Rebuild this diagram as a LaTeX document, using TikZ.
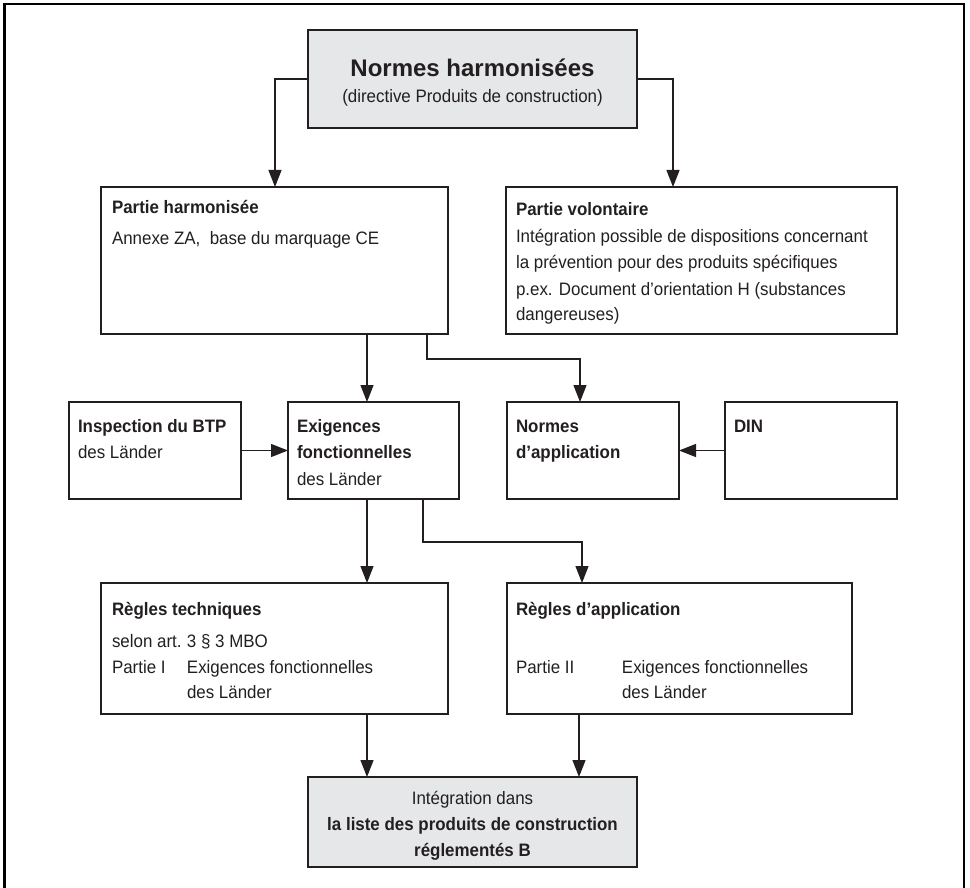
\documentclass[tikz,border=0pt]{standalone}
\usepackage{fontspec}
\setmainfont{Liberation Sans}[FakeStretch=0.94]
\newfontfamily\titlefont{Liberation Sans}
\usetikzlibrary{arrows.meta}
\definecolor{ink}{HTML}{231F20}
\definecolor{panel}{HTML}{E6E7E8}
\begin{document}
\begin{tikzpicture}[x=1pt,y=-1pt,
  box/.style={draw=ink, line width=1.5pt, rectangle, inner sep=0pt, outer sep=0pt, anchor=north west},
  shaded/.style={box, fill=panel},
  txt/.style={inner sep=0pt, outer sep=0pt, anchor=base west, text=ink, font=\fontsize{18}{20}\selectfont},
  head/.style={txt, font=\fontsize{18}{20}\selectfont\bfseries},
  link/.style={draw=ink, line width=1.3pt, -{Triangle[length=17pt,width=13pt]}},
]
\useasboundingbox (0,0) rectangle (970,888);
% outer frame (open at the bottom edge of the page)
\draw[line width=2.5pt] (4.5,895) -- (4.5,4) -- (964,4) -- (964,895);

% boxes
\node[shaded, minimum width=329pt, minimum height=98pt] (top) at (308,30) {};
\node[box, minimum width=347pt, minimum height=147pt] (ph) at (101,187) {};
\node[box, minimum width=391pt, minimum height=147pt] (pv) at (506,187) {};
\node[box, minimum width=172pt, minimum height=97pt] (insp) at (69,402) {};
\node[box, minimum width=171pt, minimum height=97pt] (exig) at (288,402) {};
\node[box, minimum width=172pt, minimum height=97pt] (napp) at (507,402) {};
\node[box, minimum width=172pt, minimum height=97pt] (din) at (725,402) {};
\node[box, minimum width=347pt, minimum height=131pt] (rt) at (101,583) {};
\node[box, minimum width=345pt, minimum height=131pt] (ra) at (507,583) {};
\node[shaded, minimum width=329pt, minimum height=90pt] (bot) at (308,777) {};

% texts
\node[txt, font=\titlefont\fontsize{24}{28}\selectfont\bfseries, anchor=base] (top1) at (472.5,77) {Normes harmonisées};
\node[txt, anchor=base] (top2) at (472.5,103) {(directive Produits de construction)};

\node[head] (ph1) at (112,214) {Partie harmonisée};
\node[txt] (ph2) at (112,244) {Annexe ZA,\ \ base du marquage CE};

\node[head] (pv1) at (516,215) {Partie volontaire};
\node[txt] (pv2) at (516,242) {Intégration possible de dispositions concernant};
\node[txt] (pv3) at (516,269) {la prévention pour des produits spécifiques};
\node[txt] (pv4) at (516,295) {p.ex. Document d’orientation H (substances};
\node[txt] (pv5) at (516,320) {dangereuses)};

\node[head] (insp1) at (78,432) {Inspection du BTP};
\node[txt] (insp2) at (78,458) {des Länder};

\node[head] (exig1) at (297,432) {Exigences};
\node[head] (exig2) at (297,458) {fonctionnelles};
\node[txt] (exig3) at (297,485) {des Länder};

\node[head] (napp1) at (516,432) {Normes};
\node[head] (napp2) at (516,458) {d’application};

\node[head] (din1) at (734,432) {DIN};

\node[head] (rt1) at (112,615) {Règles techniques};
\node[txt] (rt2) at (112,647) {\makebox[75pt][l]{selon art.}3 § 3 MBO};
\node[txt] (rt3) at (112,673) {\makebox[75pt][l]{Partie I}Exigences fonctionnelles};
\node[txt] (rt4) at (187,698) {des Länder};

\node[head] (ra1) at (516,615) {Règles d’application};
\node[txt] (ra2) at (516,673) {\makebox[106pt][l]{Partie II}Exigences fonctionnelles};
\node[txt] (ra3) at (622,698) {des Länder};

\node[txt, anchor=base] (bot1) at (472.5,804) {Intégration dans};
\node[head, anchor=base] (bot2) at (472.5,830) {la liste des produits de construction};
\node[head, anchor=base] (bot3) at (472.5,856) {réglementés B};

% connectors
\coordinate (phIn) at (275,187);
\coordinate (pvIn) at (673,187);
\draw[link] (top.west) -| (phIn);
\draw[link] (top.east) -| (pvIn);

\coordinate (exigIn) at (367,402);
\draw[link] (ph.south -| exigIn) -- (exigIn);

\coordinate (phOut) at (427,334);
\coordinate (nappIn) at (580,402);
\draw[link] (phOut) |- (580,359) -- (nappIn);

\draw[link] (insp) -- (exig);
\draw[link] (din) -- (napp);

\coordinate (rtIn) at (367,583);
\draw[link] (exig.south -| rtIn) -- (rtIn);

\coordinate (exigOut) at (423,499);
\coordinate (raIn) at (582,583);
\draw[link] (exigOut) |- (582,542) -- (raIn);

\coordinate (botL) at (367,777);
\coordinate (botR) at (579,777);
\draw[link] (rt.south -| botL) -- (botL);
\draw[link] (ra.south -| botR) -- (botR);
\end{tikzpicture}
\end{document}
